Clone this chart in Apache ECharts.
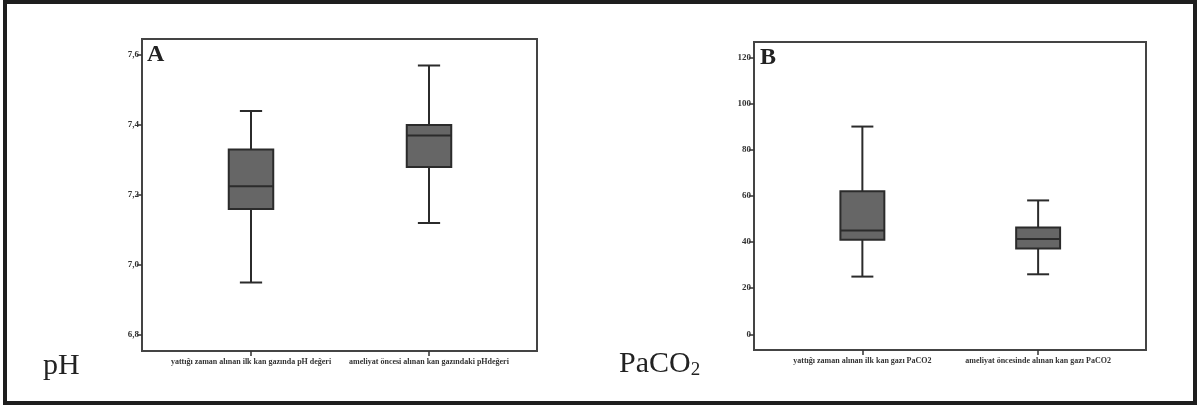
<!DOCTYPE html>
<html>
<head>
<meta charset="utf-8">
<script src="https://cdn.jsdelivr.net/npm/echarts@6/dist/echarts.min.js"></script>
<style>
html, body { margin: 0; padding: 0; background: #fff; }
#wrap { position: relative; width: 1199px; height: 407px; }
#chart { position: absolute; left: 0; top: 0; width: 1199px; height: 407px; }
#frame {
  position: absolute; left: 3px; top: 0; width: 1194px; height: 405px;
  box-sizing: border-box; border: 4px solid #1e1e1e; pointer-events: none;
}
</style>
</head>
<body>
<div id="wrap">
  <div id="chart"></div>
  <div id="frame"></div>
</div>
<script>
// panel A - pH
var phCategories = ['yattığı zaman alınan ilk kan gazında pH değeri', 'ameliyat öncesi alınan kan gazındaki pHdeğeri'];
var phLow = [6.95, 7.12];
var phQ1 = [7.16, 7.28];
var phMedian = [7.225, 7.37];
var phQ3 = [7.33, 7.40];
var phHigh = [7.44, 7.57];
var phTicks = [6.8, 7.0, 7.2, 7.4, 7.6];

// panel B - PaCO2
var co2Categories = ['yattığı zaman alınan ilk kan gazı PaCO2', 'ameliyat öncesinde alınan kan gazı PaCO2'];
var co2Low = [25, 26];
var co2Q1 = [41, 37.2];
var co2Median = [45, 41.3];
var co2Q3 = [62, 46.3];
var co2High = [90, 58];
var co2Ticks = [0, 20, 40, 60, 80, 100, 120];

function boxRows(lo, q1, md, q3, hi) {
  var rows = [];
  for (var i = 0; i < lo.length; i++) {
    rows.push([i, lo[i], q1[i], md[i], q3[i], hi[i]]);
  }
  return rows;
}

var lineCol = '#2b2b2b';
var fillCol = '#666666';

// spss style box: half-width whisker caps
function renderBox(params, api) {
  var x = api.value(0);
  var lo = api.coord([x, api.value(1)]);
  var q1 = api.coord([x, api.value(2)]);
  var md = api.coord([x, api.value(3)]);
  var q3 = api.coord([x, api.value(4)]);
  var hi = api.coord([x, api.value(5)]);
  var w = api.size([1, 0])[0] * 0.25;
  var cx = lo[0];
  var st = { stroke: lineCol, lineWidth: 2 };
  return {
    type: 'group',
    children: [
      { type: 'line', shape: { x1: cx, y1: hi[1], x2: cx, y2: q3[1] }, style: st },
      { type: 'line', shape: { x1: cx, y1: q1[1], x2: cx, y2: lo[1] }, style: st },
      { type: 'line', shape: { x1: cx - w / 4, y1: hi[1], x2: cx + w / 4, y2: hi[1] }, style: st },
      { type: 'line', shape: { x1: cx - w / 4, y1: lo[1], x2: cx + w / 4, y2: lo[1] }, style: st },
      { type: 'rect', shape: { x: cx - w / 2, y: q3[1], width: w, height: q1[1] - q3[1] },
        style: { fill: fillCol, stroke: lineCol, lineWidth: 2 } },
      { type: 'line', shape: { x1: cx - w / 2, y1: md[1], x2: cx + w / 2, y2: md[1] }, style: st }
    ]
  };
}

var labelFont = { fontFamily: 'Liberation Serif', fontWeight: 'bold', color: '#333' };

function frameY(gi, min, max, ticks, fmt) {
  return {
    type: 'value', gridIndex: gi, min: min, max: max,
    splitLine: { show: false },
    axisLine: { show: false },
    axisTick: { show: true, length: 5, customValues: ticks, lineStyle: { color: '#333', width: 1.5 } },
    axisLabel: Object.assign({ fontSize: 9, margin: 3, customValues: ticks, formatter: fmt }, labelFont)
  };
}

function innerX(gi, cats) {
  return {
    type: 'category', gridIndex: gi, data: cats, position: 'bottom',
    axisLine: { show: false, onZero: false },
    axisTick: { show: true, alignWithLabel: true, length: 5, lineStyle: { color: '#333', width: 1.5 } },
    axisLabel: Object.assign({ fontSize: 8, margin: 7, interval: 0 }, labelFont)
  };
}

var chart = echarts.init(document.getElementById('chart'));

var option = {
  backgroundColor: '#ffffff',
  animation: false,
  title: [
    { text: 'A', left: 147, top: 43, padding: 0,
      textStyle: { fontFamily: 'Liberation Serif', fontWeight: 'bold', fontSize: 24, color: '#222' } },
    { text: 'B', left: 760, top: 46, padding: 0,
      textStyle: { fontFamily: 'Liberation Serif', fontWeight: 'bold', fontSize: 24, color: '#222' } },
    { text: 'pH', left: 43, top: 351, padding: 0,
      textStyle: { fontFamily: 'Liberation Serif', fontWeight: 'normal', fontSize: 30, color: '#222' } },
    { text: '{a|PaCO}{s|2}', left: 619, top: 348, padding: 0,
      textStyle: {
        fontWeight: 'normal',
        rich: {
          a: { fontFamily: 'Liberation Serif', fontWeight: 'normal', fontSize: 30, color: '#222', lineHeight: 32 },
          s: { fontFamily: 'Liberation Serif', fontWeight: 'normal', fontSize: 19, color: '#222', lineHeight: 15, verticalAlign: 'bottom' }
        }
      } }
  ],
  grid: [
    { left: 142, top: 39, width: 395, height: 312, show: true, borderColor: '#444', borderWidth: 2, backgroundColor: 'transparent' },
    { left: 162, top: 39, width: 356, height: 312 },
    { left: 754, top: 42, width: 392, height: 308, show: true, borderColor: '#444', borderWidth: 2, backgroundColor: 'transparent' },
    { left: 774.5, top: 42, width: 351.5, height: 308 }
  ],
  xAxis: [
    { type: 'value', gridIndex: 0, show: false, min: 0, max: 1 },
    innerX(1, phCategories),
    { type: 'value', gridIndex: 2, show: false, min: 0, max: 1 },
    innerX(3, co2Categories)
  ],
  yAxis: [
    frameY(0, 6.7543, 7.6457, phTicks, function (v) { return v.toFixed(1).replace('.', ','); }),
    { type: 'value', gridIndex: 1, show: false, min: 6.7543, max: 7.6457 },
    frameY(2, -6.8, 126.63, co2Ticks, function (v) { return String(v); }),
    { type: 'value', gridIndex: 3, show: false, min: -6.8, max: 126.63 }
  ],
  series: [
    { type: 'custom', xAxisIndex: 1, yAxisIndex: 1, renderItem: renderBox,
      encode: { x: 0, y: [1, 2, 3, 4, 5] },
      data: boxRows(phLow, phQ1, phMedian, phQ3, phHigh) },
    { type: 'custom', xAxisIndex: 3, yAxisIndex: 3, renderItem: renderBox,
      encode: { x: 0, y: [1, 2, 3, 4, 5] },
      data: boxRows(co2Low, co2Q1, co2Median, co2Q3, co2High) }
  ]
};

chart.setOption(option);
</script>
</body>
</html>
